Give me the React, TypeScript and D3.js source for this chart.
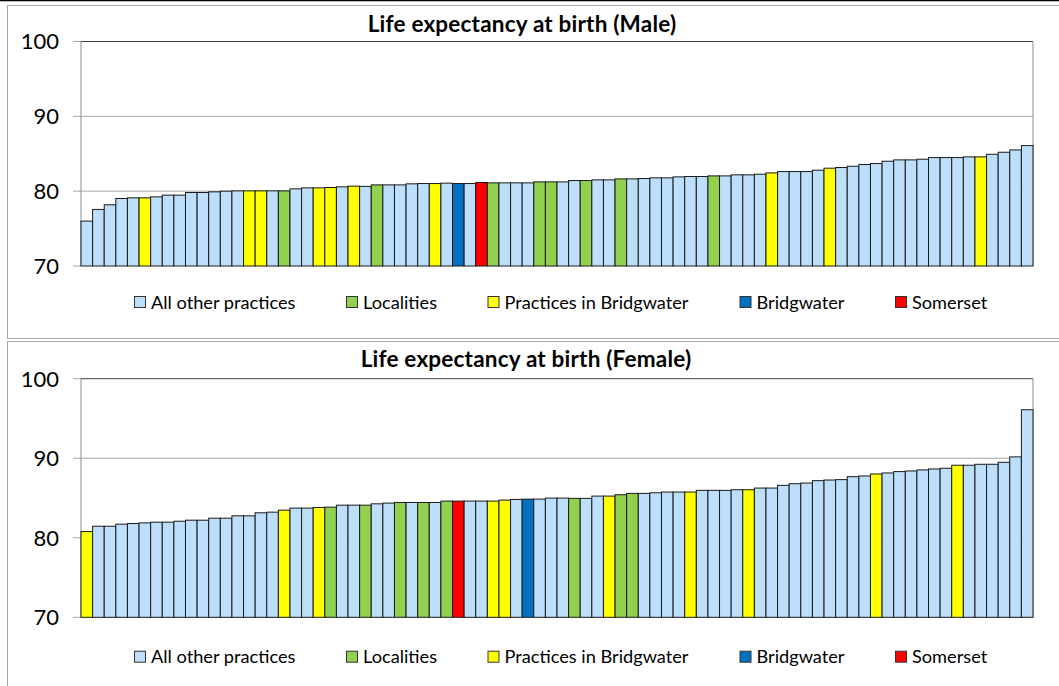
import React from 'react';
import * as d3 from 'd3';

// values, sorted low -> high as in the original
const maleValues = [
  76.0, 77.56, 78.18, 79.02, 79.11, 79.11, 79.24, 79.47, 79.47, 79.82,
  79.82, 79.91, 80.0, 80.04, 80.04, 80.04, 80.04, 80.04, 80.31, 80.44,
  80.44, 80.49, 80.58, 80.67, 80.64, 80.84, 80.84, 80.84, 80.98, 81.02,
  81.02, 81.07, 81.02, 81.02, 81.16, 81.11, 81.11, 81.11, 81.11, 81.24,
  81.24, 81.24, 81.42, 81.42, 81.51, 81.51, 81.64, 81.64, 81.69, 81.78,
  81.78, 81.91, 81.96, 81.96, 82.04, 82.04, 82.18, 82.18, 82.27, 82.44,
  82.62, 82.62, 82.62, 82.8, 83.07, 83.16, 83.33, 83.56, 83.69, 84.0,
  84.18, 84.18, 84.27, 84.49, 84.49, 84.49, 84.58, 84.58, 84.93, 85.2,
  85.51, 86.09,
];
// o = all other practices, l = localities, p = practices in Bridgwater, b = Bridgwater, s = Somerset
const maleGroups = [
  'o', 'o', 'o', 'o', 'o', 'p', 'o', 'o', 'o', 'o',
  'o', 'o', 'o', 'o', 'p', 'p', 'o', 'l', 'o', 'o',
  'p', 'p', 'o', 'p', 'o', 'l', 'o', 'o', 'o', 'o',
  'p', 'o', 'b', 'o', 's', 'l', 'o', 'o', 'o', 'l',
  'l', 'o', 'o', 'l', 'o', 'o', 'l', 'o', 'o', 'o',
  'o', 'o', 'o', 'o', 'l', 'o', 'o', 'o', 'o', 'p',
  'o', 'o', 'o', 'o', 'p', 'o', 'o', 'o', 'o', 'o',
  'o', 'o', 'o', 'o', 'o', 'o', 'o', 'p', 'o', 'o',
  'o', 'o',
];

const femaleValues = [
  80.78, 81.45, 81.45, 81.71, 81.79, 81.87, 81.96, 81.96, 82.08, 82.21,
  82.21, 82.46, 82.46, 82.76, 82.76, 83.14, 83.22, 83.47, 83.73, 83.73,
  83.81, 83.85, 84.1, 84.1, 84.1, 84.27, 84.36, 84.44, 84.44, 84.44,
  84.44, 84.61, 84.61, 84.61, 84.61, 84.61, 84.74, 84.82, 84.86, 84.86,
  84.99, 84.99, 84.95, 84.95, 85.24, 85.24, 85.41, 85.58, 85.58, 85.66,
  85.75, 85.75, 85.75, 85.96, 85.96, 85.96, 86.04, 86.04, 86.25, 86.25,
  86.59, 86.8, 86.88, 87.18, 87.26, 87.31, 87.68, 87.77, 88.02, 88.15,
  88.32, 88.4, 88.53, 88.65, 88.74, 89.12, 89.12, 89.24, 89.24, 89.49,
  90.17, 96.1,
];
const femaleGroups = [
  'p', 'o', 'o', 'o', 'o', 'o', 'o', 'o', 'o', 'o',
  'o', 'o', 'o', 'o', 'o', 'o', 'o', 'p', 'o', 'o',
  'p', 'l', 'o', 'o', 'l', 'o', 'o', 'l', 'o', 'l',
  'o', 'l', 's', 'o', 'o', 'p', 'p', 'o', 'b', 'o',
  'o', 'o', 'l', 'o', 'o', 'p', 'l', 'l', 'o', 'o',
  'o', 'o', 'p', 'o', 'o', 'o', 'o', 'p', 'o', 'o',
  'o', 'o', 'o', 'o', 'o', 'o', 'o', 'o', 'p', 'o',
  'o', 'o', 'o', 'o', 'o', 'p', 'o', 'o', 'o', 'o',
  'o', 'o',
];

const legendKeys = ['o', 'l', 'p', 'b', 's'];
const legendLabels = ['All other practices', 'Localities', 'Practices in Bridgwater', 'Bridgwater', 'Somerset'];
const yTicks = [70, 80, 90, 100];

const colors: Record<string, string> = {
  o: '#BDDFFB',
  l: '#92D050',
  p: '#FFFF00',
  b: '#0070C0',
  s: '#FF0000',
};

const font = "Lato, 'Open Sans', sans-serif";
const legendX = [134.5, 346.5, 488, 740, 895.5];

type PanelProps = {
  title: string;
  titleX: number;
  values: number[];
  groups: string[];
  boxY: number;
  boxH: number;
  plotTop: number;
  plotBottom: number;
  titleY: number;
  legendY: number;
};

function Panel(props: PanelProps) {
  const { title, titleX, values, groups, boxY, boxH, plotTop, plotBottom, titleY, legendY } = props;
  const left = 81;
  const right = 1033;

  const x = d3.scaleBand<number>()
    .domain(d3.range(values.length))
    .range([left, right])
    .padding(0);

  const y = d3.scaleLinear()
    .domain([70, 100])
    .range([plotBottom, plotTop]);

  return (
    <g>
      <rect x={7.5} y={boxY + 0.5} width={1060} height={boxH} fill="#fff" stroke="#a6a6a6" />
      <text x={titleX} y={titleY} textAnchor="middle" fontFamily={font} fontWeight="bold" fontSize={22.5} letterSpacing={0.2} fill="#000">
        {title}
      </text>

      {/* gridlines + ticks */}
      {yTicks.map(t => (
        <g key={t}>
          {t > 70 && t < 100 && (
            <line x1={left} x2={right} y1={y(t)} y2={y(t)} stroke="#a6a6a6" strokeWidth={1} />
          )}
          <line x1={left - 8} x2={left} y1={y(t)} y2={y(t)} stroke="#a6a6a6" />
          <text x={59} y={y(t)} dy="0.36em" textAnchor="end" fontFamily={font} fontSize={22} fill="#000">
            {t}
          </text>
        </g>
      ))}

      {/* plot frame */}
      <line x1={left} x2={right} y1={y(100)} y2={y(100)} stroke="#404040" />
      <line x1={left} x2={left} y1={y(100)} y2={y(70)} stroke="#8c8c8c" />
      <line x1={right} x2={right} y1={y(100)} y2={y(70)} stroke="#8c8c8c" />

      {values.map((v, i) => (
        <rect
          key={i}
          x={x(i)}
          y={y(v)}
          width={x.bandwidth()}
          height={y(70) - y(v)}
          fill={colors[groups[i]]}
          stroke="#1a1a1a"
          strokeWidth={1}
        />
      ))}

      {legendKeys.map((k, i) => (
        <g key={k}>
          <rect x={legendX[i]} y={legendY - 5.5} width={11} height={11} fill={colors[k]} stroke="#333" />
          <text x={legendX[i] + 16.5} y={legendY} dy="0.36em" fontFamily={font} fontSize={18.2} fill="#000">
            {legendLabels[i]}
          </text>
        </g>
      ))}
    </g>
  );
}

export default function App() {
  return (
    <svg width={1059} height={686} style={{ position: 'absolute', left: 0, top: 0, background: '#fff' }}>
      <rect x={0} y={0} width={1059} height={686} fill="#fff" />
      <Panel
        title="Life expectancy at birth (Male)"
        titleX={522}
        values={maleValues}
        groups={maleGroups}
        boxY={5}
        boxH={333}
        plotTop={41.5}
        plotBottom={266}
        titleY={32}
        legendY={302}
      />
      <Panel
        title="Life expectancy at birth (Female)"
        titleX={526}
        values={femaleValues}
        groups={femaleGroups}
        boxY={341}
        boxH={360}
        plotTop={378.7}
        plotBottom={617.3}
        titleY={367}
        legendY={656.7}
      />
      <line x1={0} x2={1059} y1={0.5} y2={0.5} stroke="#000" strokeWidth={1.5} />
    </svg>
  );
}
